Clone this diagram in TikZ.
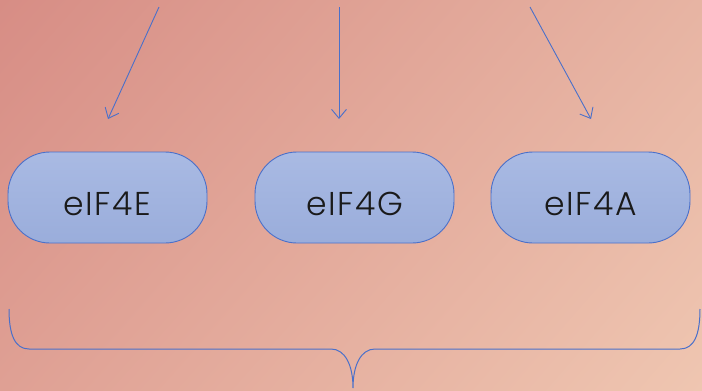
\documentclass[tikz,border=0pt]{standalone}
\usepackage{fontspec}
\newfontfamily\lblfont{Poppins}[UprightFont=* Light, LetterSpace=5]
\usetikzlibrary{arrows.meta,shadings}
\definecolor{linkblue}{HTML}{4A70CA}
\definecolor{boxtop}{HTML}{A9BAE3}
\definecolor{boxbot}{HTML}{9AADDB}
\definecolor{bgul}{RGB}{215,141,133}
\definecolor{bgur}{RGB}{231,180,163}
\definecolor{bgll}{RGB}{223,160,148}
\definecolor{bglr}{RGB}{239,198,177}
\definecolor{labelink}{HTML}{1A1A1A}
\tikzset{
  factor/.style={draw=linkblue, line width=0.9pt, rounded corners=42pt,
    top color=boxtop, bottom color=boxbot,
    minimum width=199pt, minimum height=91pt, inner sep=0pt,
    text height=35pt, text depth=0pt,
    font=\lblfont\fontsize{33}{36}\selectfont, text=labelink},
  link/.style={draw=linkblue, line width=0.9pt,
    -{Straight Barb[length=9pt,width=15pt,line width=0.9pt]}},
  brace/.style={draw=linkblue, line width=1pt}
}
\begin{document}
\begin{tikzpicture}[x=1pt,y=-1pt]
  \useasboundingbox (0,0) rectangle (702,391);
  % warm diagonal background
  \shade[upper left=bgul, upper right=bgur, lower left=bgll, lower right=bglr]
    (0,0) rectangle (702,391);

  % initiation factors
  \node[factor] (e) at (107.5,197.5) {eIF4E};
  \node[factor] (g) at (354.5,197.5) {eIF4G};
  \node[factor] (a) at (590.5,197.5) {eIF4A};

  % incoming arrows
  \coordinate (se) at (159,7);
  \coordinate (sg) at (339,7);
  \coordinate (sa) at (530,7);
  \coordinate (te) at (108,119);
  \coordinate (tg) at (339,119);
  \coordinate (ta) at (591,119);
  \draw[link] (se) -- (te);
  \draw[link] (sg) -- (tg);
  \draw[link] (sa) -- (ta);

  % grouping brace under the row
  \coordinate (bl) at (9,309);
  \coordinate (br) at (700,309);
  \coordinate (tip) at (353,388);
  \draw[brace] (bl) .. controls (9,335) and (15,349) .. (29,349)
    -- (331,349) .. controls (345,349) and (353,365) .. (tip)
    .. controls (353,365) and (361,349) .. (375,349)
    -- (680,349) .. controls (694,349) and (700,335) .. (br);
\end{tikzpicture}
\end{document}
